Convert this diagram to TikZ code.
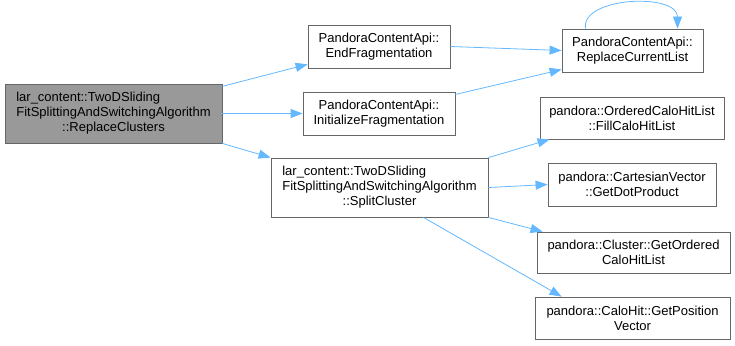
\documentclass[tikz,border=0pt]{standalone}
\usepackage{fontspec}
\setmainfont{Liberation Sans}
\usetikzlibrary{arrows.meta}
\definecolor{edgeblue}{HTML}{63B8FF}
\definecolor{boxborder}{HTML}{666666}
\definecolor{boxfill}{HTML}{999999}

\begin{document}
\begin{tikzpicture}[x=1pt, y=-1pt,
    func/.style={draw=boxborder, line width=0.8pt, rectangle, fill=white, inner sep=0pt, align=center, font=\fontsize{13}{15}\selectfont},
    current/.style={func, fill=boxfill},
    call/.style={draw=edgeblue, line width=0.8pt, -{Triangle[length=12pt, width=9pt]}}]
    \useasboundingbox (0,0) rectangle (735,345);

    % Caller
    \node[current, minimum width=217pt, minimum height=59pt] (replace) at (113.5,113.5) {\begin{tabular}{@{}l@{}}lar\_content::TwoDSliding\\FitSplittingAndSwitchingAlgorithm\\\multicolumn{1}{@{}c@{}}{::ReplaceClusters}\end{tabular}};

    % Direct callees
    \node[func, minimum width=142pt, minimum height=43pt] (endfrag) at (379,46.5) {PandoraContentApi::\\EndFragmentation};
    \node[func, minimum width=152pt, minimum height=43pt] (initfrag) at (379,113.5) {PandoraContentApi::\\InitializeFragmentation};
    \node[func, minimum width=217pt, minimum height=59pt] (split) at (379.5,187.5) {\begin{tabular}{@{}l@{}}lar\_content::TwoDSliding\\FitSplittingAndSwitchingAlgorithm\\\multicolumn{1}{@{}c@{}}{::SplitCluster}\end{tabular}};

    % Second level
    \node[func, minimum width=141pt, minimum height=43pt] (replacelist) at (632.5,50.5) {PandoraContentApi::\\ReplaceCurrentList};
    \node[func, minimum width=184pt, minimum height=42pt] (filllist) at (632,118) {pandora::OrderedCaloHitList\\::FillCaloHitList};
    \node[func, minimum width=168pt, minimum height=43pt] (dotprod) at (632,184.5) {pandora::CartesianVector\\::GetDotProduct};
    \node[func, minimum width=193pt, minimum height=41pt] (orderedlist) at (633.5,252.5) {pandora::Cluster::GetOrdered\\CaloHitList};
    \node[func, minimum width=195pt, minimum height=42pt] (position) at (632.5,318) {pandora::CaloHit::GetPosition\\Vector};

    % Calls
    \draw[call] (replace.14) -- (endfrag.194);
    \draw[call] (replace.east) -- (initfrag.west);
    \draw[call] (replace.south east) -- (split.north west);
    \draw[call] (endfrag.east) -- (replacelist.west);
    \draw[call] (initfrag.14) -- (replacelist.195);
    \draw[call] ([xshift=-47pt]replacelist.north) .. controls +(-5,-32) and +(0,-36) .. ([xshift=45pt]replacelist.north);
    \draw[call] (split.north east) -- ([xshift=10pt]filllist.south west);
    \draw[call] (split.east) -- (dotprod.west);
    \draw[call] (split.south east) -- ([xshift=6pt]orderedlist.north west);
    \draw[call] ([xshift=-65pt]split.south east) -- ([xshift=27pt]position.north west);
\end{tikzpicture}
\end{document}
